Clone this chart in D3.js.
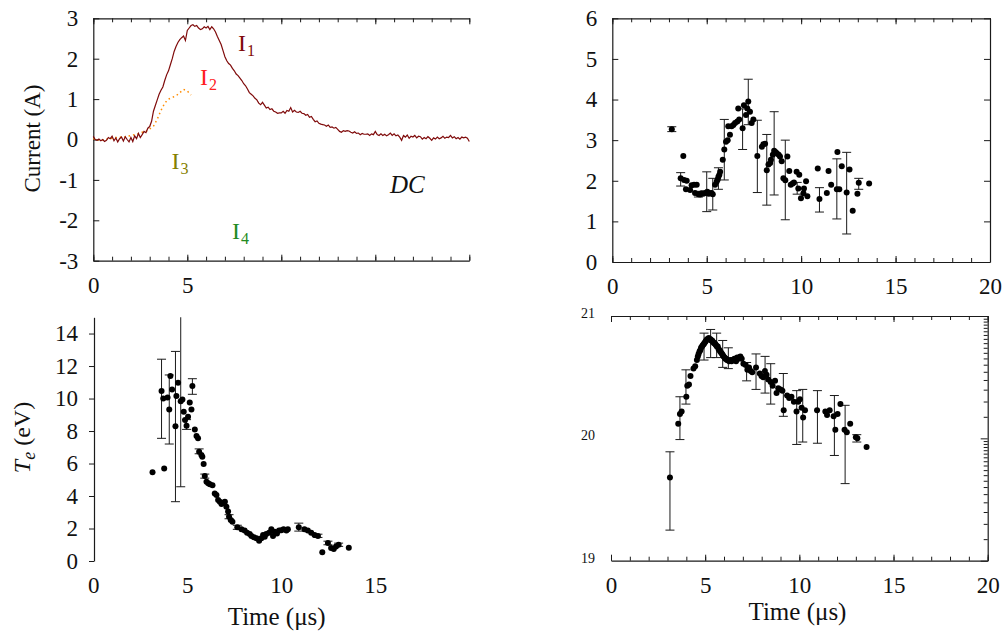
<!DOCTYPE html>
<html>
<head>
<meta charset="utf-8">
<script src="https://cdn.jsdelivr.net/npm/d3@7"></script>
<style>
body { margin: 0; background: #fff; }
</style>
</head>
<body>
<div id="chart"></div>
<script>
// ---- top left: discharge currents (A), I1 sampled every 0.1 us from t = 0
var i1Start = 0, i1Step = 0.1;
var i1Values = [0.08, 0.00, -0.02, 0.01, -0.03, 0.00, -0.05, -0.02, 0.05, 0.02,
    0.08, -0.03, 0.04, -0.06, 0.02, 0.06, -0.04, 0.07, 0.00, -0.06,
    0.05, -0.05, 0.09, 0.02, 0.15, 0.05, 0.12, 0.20, 0.17, 0.28,
    0.32, 0.45, 0.70, 0.84, 0.98, 1.12, 1.22, 1.30, 1.46, 1.60,
    1.70, 1.85, 2.00, 2.18, 2.30, 2.40, 2.47, 2.52, 2.56, 2.45,
    2.70, 2.76, 2.82, 2.84, 2.80, 2.82, 2.76, 2.72, 2.74, 2.79,
    2.76, 2.80, 2.72, 2.79, 2.74, 2.66, 2.55, 2.45, 2.35, 2.20,
    2.05, 1.95, 1.88, 1.84, 1.76, 1.70, 1.62, 1.58, 1.52, 1.46,
    1.38, 1.33, 1.25, 1.16, 1.12, 1.08, 1.02, 0.98, 0.90, 0.86,
    0.92, 0.85, 0.78, 0.80, 0.74, 0.76, 0.70, 0.68, 0.65, 0.66,
    0.66, 0.70, 0.65, 0.72, 0.70, 0.79, 0.68, 0.72, 0.68, 0.67,
    0.70, 0.65, 0.64, 0.60, 0.62, 0.55, 0.57, 0.50, 0.44, 0.46,
    0.40, 0.38, 0.37, 0.36, 0.33, 0.36, 0.30, 0.31, 0.28, 0.30,
    0.25, 0.20, 0.18, 0.22, 0.20, 0.22, 0.21, 0.18, 0.16, 0.19,
    0.15, 0.16, 0.12, 0.15, 0.13, 0.13, 0.14, 0.10, 0.14, 0.12,
    0.20, 0.12, 0.10, 0.14, 0.10, 0.13, 0.09, 0.12, 0.16, 0.10,
    0.14, 0.09, 0.11, 0.06, -0.02, 0.10, 0.06, 0.11, 0.03, 0.08,
    0.06, 0.10, 0.04, 0.08, 0.07, 0.01, 0.05, 0.02, 0.07, 0.03,
    -0.02, 0.04, 0.01, 0.06, 0.02, 0.04, 0.08, 0.03, 0.06, 0.05,
    0.10, 0.04, 0.07, 0.02, 0.05, 0.01, 0.06, 0.04, 0.06, 0.03,
    -0.05];
var i2Times = [0, 0.2, 0.4, 0.6, 0.8, 1.0, 1.2, 1.4, 1.6, 1.8, 2.0, 2.2, 2.4, 2.6,
    2.8, 3.0, 3.2, 3.4, 3.6, 3.8, 4.0, 4.2, 4.4, 4.6, 4.8, 5.0, 5.2];
var i2Values = [0.02, 0.00, -0.02, 0.00, 0.02, 0.03, 0.05, 0.06, 0.05, 0.08, 0.10, 0.12, 0.14, 0.18,
    0.20, 0.26, 0.33, 0.50, 0.72, 0.90, 1.00, 1.04, 1.08, 1.16, 1.24, 1.20, 1.10];
var currentTicks = [-3, -2, -1, 0, 1, 2, 3];
var topLeftXLabels = [0, 5];

// ---- top right
var rTimes = [3.15, 3.62, 3.76, 3.80, 3.90, 3.94, 4.12, 4.20, 4.33, 4.38, 4.47, 4.56, 4.65, 4.73, 4.82,
    4.91, 5.03, 5.10, 5.17, 5.25, 5.32, 5.44, 5.53, 5.58, 5.62, 5.67, 5.71, 5.85, 5.93, 6.02,
    6.11, 6.14, 6.23, 6.32, 6.41, 6.50, 6.62, 6.67, 6.72, 6.90, 6.97, 7.08, 7.15, 7.20, 7.29,
    7.38, 7.47, 7.68, 7.92, 8.00, 8.09, 8.18, 8.27, 8.36, 8.40, 8.50, 8.57, 8.64, 8.71, 8.81,
    8.88, 8.97, 9.06, 9.16, 9.27, 9.37, 9.45, 9.55, 9.62, 9.76, 9.85, 9.90, 9.99, 10.12, 10.15,
    10.26, 10.33, 10.88, 10.97, 11.36, 11.45, 11.59, 11.89, 11.92, 12.02, 12.15, 12.41, 12.56, 12.73, 12.98,
    13.05, 13.60];
var rValues = [3.27, 2.06, 2.61, 2.02, 1.79, 2.00, 1.77, 1.89, 1.90, 1.70, 1.90, 1.67, 1.66, 1.69, 1.68,
    1.70, 1.73, 1.68, 1.69, 1.70, 1.67, 1.90, 1.98, 2.03, 2.10, 2.15, 2.22, 2.52, 2.77, 2.96,
    3.00, 3.34, 3.13, 3.34, 3.37, 3.42, 3.46, 3.78, 3.51, 3.29, 3.86, 3.62, 3.78, 3.95, 3.70,
    3.42, 3.51, 2.61, 2.84, 2.90, 2.91, 2.26, 2.40, 2.44, 2.52, 2.64, 2.74, 2.71, 2.68, 2.64,
    2.60, 2.48, 2.06, 2.01, 2.60, 2.24, 1.90, 1.93, 1.96, 2.22, 1.81, 2.15, 1.57, 1.69, 1.81,
    1.99, 1.62, 2.30, 1.55, 1.70, 2.24, 1.90, 1.79, 2.71, 1.79, 2.36, 1.71, 2.28, 1.26, 1.68,
    1.95, 1.93];
var rErrTimes = [3.15, 3.62, 4.56, 5.00, 5.32, 5.62, 5.93, 6.90, 7.20, 7.68, 8.18, 8.57, 9.16, 9.79, 10.97, 11.89, 12.41, 13.05];
var rErrLow = [3.21, 1.87, 1.60, 1.24, 1.28, 1.79, 2.02, 2.77, 3.38, 1.71, 1.40, 1.65, 1.04, 1.67, 1.23, 1.06, 0.69, 1.79];
var rErrHigh = [3.33, 2.20, 1.74, 2.22, 2.06, 2.32, 3.51, 3.77, 4.50, 3.49, 3.14, 3.70, 3.00, 1.96, 1.83, 2.54, 2.70, 2.06];
var rTicks = [0, 1, 2, 3, 4, 5, 6];

// ---- bottom left: electron temperature (eV)
var teTimes = [3.15, 3.77, 3.63, 3.72, 3.95, 4.04, 4.10, 4.19, 4.37, 4.42, 4.51, 4.65, 4.74, 4.81, 4.88,
    4.96, 5.04, 5.13, 5.22, 5.27, 5.40, 5.49, 5.57, 5.63, 5.75, 5.80, 5.87, 5.93, 6.02, 6.11,
    6.20, 6.34, 6.46, 6.55, 6.64, 6.73, 6.82, 6.91, 7.00, 7.08, 7.17, 7.22, 7.31, 7.40, 7.66,
    7.88, 8.05, 8.18, 8.32, 8.41, 8.54, 8.68, 8.82, 8.94, 9.03, 9.12, 9.20, 9.35, 9.47, 9.56,
    9.65, 9.77, 9.88, 10.00, 10.12, 10.27, 10.35, 10.93, 11.23, 11.41, 11.59, 11.77, 11.95, 12.18, 12.48,
    12.65, 12.79, 12.91, 13.05, 13.59];
var teValues = [5.46, 5.70, 10.46, 10.00, 10.06, 9.33, 11.38, 10.56, 8.30, 10.15, 10.97, 9.84, 9.94, 9.19, 8.68,
    8.33, 8.88, 9.75, 9.33, 10.77, 8.10, 7.69, 7.55, 6.73, 6.52, 6.42, 5.97, 5.23, 4.88, 4.78,
    4.73, 4.67, 4.16, 4.06, 3.75, 3.65, 3.51, 3.59, 3.65, 3.34, 3.04, 2.73, 2.52, 2.42, 2.07,
    1.95, 1.87, 1.74, 1.66, 1.54, 1.46, 1.40, 1.25, 1.40, 1.60, 1.50, 1.66, 1.74, 1.95, 1.54,
    1.80, 1.70, 1.87, 1.90, 1.95, 1.87, 1.95, 2.07, 1.95, 1.87, 1.74, 1.60, 1.54, 0.54, 1.11,
    0.80, 0.74, 0.90, 1.00, 0.82];
var teErrTimes = [3.63, 4.04, 4.37, 4.65, 4.96, 5.27, 5.63, 5.93, 7.22, 7.66, 10.93, 11.95, 12.48, 13.05];
var teErrLow = [7.55, 7.20, 3.65, 4.57, 8.10, 10.26, 6.60, 5.10, 2.60, 1.95, 1.84, 1.45, 1.00, 0.90];
var teErrHigh = [12.42, 11.45, 12.90, 15.50, 8.70, 11.22, 6.90, 5.35, 2.85, 2.20, 2.33, 1.65, 1.22, 1.10];
var teTicks = [0, 2, 4, 6, 8, 10, 12, 14];
var bottomLeftXLabels = [0, 5, 10, 15];

// ---- bottom right: log10 of density
var neTimes = [3.13, 3.57, 3.66, 3.75, 4.00, 4.05, 4.14, 4.22, 4.38, 4.47, 4.56, 4.61, 4.65, 4.70, 4.74,
    4.78, 4.83, 4.87, 4.92, 4.96, 5.01, 5.05, 5.10, 5.14, 5.19, 5.23, 5.28, 5.32, 5.37, 5.41,
    5.46, 5.50, 5.54, 5.58, 5.62, 5.67, 5.71, 5.76, 5.80, 5.85, 5.90, 5.94, 5.98, 6.03, 6.07,
    6.11, 6.16, 6.20, 6.27, 6.34, 6.40, 6.46, 6.50, 6.55, 6.60, 6.64, 6.70, 6.76, 6.81, 6.87,
    6.94, 7.03, 7.15, 7.24, 7.33, 7.42, 7.50, 7.70, 7.90, 7.99, 8.08, 8.17, 8.26, 8.35, 8.48,
    8.58, 8.71, 8.79, 8.88, 9.00, 9.10, 9.17, 9.35, 9.46, 9.58, 9.71, 9.85, 9.94, 10.03, 10.12,
    10.20, 10.30, 10.94, 11.38, 11.47, 11.61, 11.82, 11.91, 12.03, 12.18, 12.40, 12.52, 12.70, 13.00, 13.08,
    13.57];
var neExps = [19.68, 20.12, 20.20, 20.22, 20.34, 20.43, 20.44, 20.51, 20.57, 20.59, 20.64, 20.67, 20.69, 20.71, 20.72,
    20.74, 20.75, 20.76, 20.77, 20.78, 20.79, 20.80, 20.81, 20.81, 20.82, 20.81, 20.81, 20.80, 20.80, 20.79,
    20.78, 20.78, 20.77, 20.76, 20.75, 20.75, 20.73, 20.72, 20.71, 20.70, 20.69, 20.68, 20.67, 20.66, 20.65,
    20.65, 20.64, 20.64, 20.63, 20.64, 20.63, 20.64, 20.64, 20.65, 20.64, 20.63, 20.66, 20.65, 20.66, 20.67,
    20.65, 20.61, 20.60, 20.56, 20.58, 20.55, 20.54, 20.58, 20.53, 20.51, 20.50, 20.55, 20.52, 20.48, 20.46,
    20.43, 20.47, 20.37, 20.41, 20.40, 20.39, 20.23, 20.35, 20.33, 20.34, 20.30, 20.22, 20.30, 20.32, 20.25,
    20.17, 20.23, 20.23, 20.22, 20.19, 20.23, 20.18, 20.07, 20.20, 20.28, 20.07, 20.05, 20.12, 20.01, 20.00,
    19.93];
var neErrTimes = [3.13, 3.66, 3.98, 4.94, 5.29, 5.61, 5.93, 6.23, 7.20, 7.70, 8.18, 8.48, 9.15, 9.86, 10.18, 10.96, 11.86, 12.43, 13.05];
var neErrLow = [19.25, 19.99, 20.28, 20.64, 20.66, 20.66, 20.58, 20.57, 20.47, 20.40, 20.37, 20.28, 20.18, 19.95, 19.97, 19.96, 19.86, 19.63, 19.97];
var neErrHigh = [19.89, 20.34, 20.56, 20.86, 20.89, 20.86, 20.80, 20.74, 20.62, 20.69, 20.67, 20.61, 20.53, 20.39, 20.40, 20.39, 20.35, 20.27, 20.03];
var neTickExps = [19, 20, 21];
var logMinorSteps = [1.5, 2, 2.5, 3, 3.5, 4, 4.5, 5, 5.5, 6, 6.5, 7, 7.5, 8, 8.5, 9, 9.5];

var timeTicks = [0, 5, 10, 15, 20];
var serif = '"Liberation Serif", "Times New Roman", serif';

function init(){
    var svg = d3.select("#chart")
                .append("svg")
                .attr("width", 1003)
                .attr("height", 635);

    // plain numbers with an ascii minus, as in the original figure
    var plain = function(d){ return String(d); };

    // common look for every axis group
    function look(g, size){
        g.attr("font-family", serif)
         .attr("font-size", size || 23)
         .attr("color", "#1a1a1a");
        g.select(".domain").attr("stroke-width", 1.2);
        g.selectAll(".tick text").attr("fill", "#111");
    }
    function noDomain(g){ g.select(".domain").remove(); }

    function addAxis(axis, tx, ty, size){
        return svg.append("g")
            .attr("transform", "translate(" + tx + "," + ty + ")")
            .call(axis)
            .call(function(g){ look(g, size); });
    }

    function dots(x, y, ts, vs){
        svg.append("g").selectAll("circle")
            .data(ts)
            .enter()
            .append("circle")
            .attr("cx", function(d){ return x(d); })
            .attr("cy", function(d, i){ return y(vs[i]); })
            .attr("r", 3)
            .attr("fill", "#000");
    }

    function errorBars(x, y, ts, lo, hi, clip){
        var g = svg.append("g")
            .attr("stroke", "#1a1a1a")
            .attr("stroke-width", 1)
            .attr("fill", "none");
        if (clip) g.attr("clip-path", "url(#" + clip + ")");
        var bars = g.selectAll("g").data(ts).enter().append("g");
        bars.append("line")
            .attr("x1", function(d){ return x(d); })
            .attr("x2", function(d){ return x(d); })
            .attr("y1", function(d, i){ return y(lo[i]); })
            .attr("y2", function(d, i){ return y(hi[i]); });
        bars.append("line")
            .attr("x1", function(d){ return x(d) - 4.5; })
            .attr("x2", function(d){ return x(d) + 4.5; })
            .attr("y1", function(d, i){ return y(lo[i]); })
            .attr("y2", function(d, i){ return y(lo[i]); });
        bars.append("line")
            .attr("x1", function(d){ return x(d) - 4.5; })
            .attr("x2", function(d){ return x(d) + 4.5; })
            .attr("y1", function(d, i){ return y(hi[i]); })
            .attr("y2", function(d, i){ return y(hi[i]); });
    }

    // ===== top left: currents
    var x1 = d3.scaleLinear().domain([0, 20]).range([93.3, 469.3]);
    var y1 = d3.scaleLinear().domain([-3, 3]).range([260.7, 18.3]);

    addAxis(d3.axisBottom(x1).tickValues(timeTicks).tickSizeInner(-6).tickSizeOuter(0).tickPadding(16)
        .tickFormat(function(d){ return topLeftXLabels.indexOf(d) >= 0 ? d : ""; }), 0, y1(-3));
    addAxis(d3.axisBottom(x1).ticks(20).tickSizeInner(-4).tickSizeOuter(0).tickFormat(""), 0, y1(-3)).call(noDomain);
    addAxis(d3.axisTop(x1).tickValues(timeTicks).tickSizeInner(-6).tickSizeOuter(0).tickFormat(""), 0, y1(3));
    addAxis(d3.axisTop(x1).ticks(20).tickSizeInner(-4).tickSizeOuter(0).tickFormat(""), 0, y1(3)).call(noDomain);
    addAxis(d3.axisLeft(y1).tickValues(currentTicks).tickSizeInner(-6).tickSizeOuter(0).tickPadding(15)
        .tickFormat(plain), x1(0), 0);

    svg.append("path")
        .datum(i2Values)
        .attr("d", d3.line()
            .x(function(d, i){ return x1(i2Times[i]); })
            .y(function(d){ return y1(d); }))
        .attr("fill", "none")
        .attr("stroke", "#ff8c00")
        .attr("stroke-width", 1.5)
        .attr("stroke-dasharray", "1.5,3");

    svg.append("path")
        .datum(i1Values)
        .attr("d", d3.line()
            .x(function(d, i){ return x1(i1Start + i * i1Step); })
            .y(function(d){ return y1(d); }))
        .attr("fill", "none")
        .attr("stroke", "#7f0a0a")
        .attr("stroke-width", 1.2);

    var curveLabels = [
        {t: "I", s: "1", x: 238, y: 51, c: "#7f0a0a"},
        {t: "I", s: "2", x: 200, y: 85, c: "#ff2020"},
        {t: "I", s: "3", x: 171.5, y: 169, c: "#858000"},
        {t: "I", s: "4", x: 232, y: 239, c: "#228b22"}
    ];
    curveLabels.forEach(function(l){
        var t = svg.append("text")
            .attr("x", l.x).attr("y", l.y)
            .attr("font-family", serif).attr("font-size", 24)
            .attr("fill", l.c)
            .text(l.t);
        t.append("tspan").attr("font-size", 16).attr("dy", 5).attr("dx", 1).text(l.s);
    });
    svg.append("text")
        .attr("x", 390).attr("y", 192.5)
        .attr("font-family", serif).attr("font-size", 25)
        .attr("font-style", "italic")
        .attr("fill", "#111")
        .text("DC");

    svg.append("text")
        .attr("transform", "translate(40,138.5) rotate(-90)")
        .attr("text-anchor", "middle")
        .attr("font-family", serif).attr("font-size", 23)
        .attr("fill", "#111")
        .text("Current (A)");

    // ===== top right
    var x2 = d3.scaleLinear().domain([0, 20]).range([612.3, 990]);
    var y2 = d3.scaleLinear().domain([0, 6]).range([262, 18.3]);

    addAxis(d3.axisBottom(x2).tickValues(timeTicks).tickSizeInner(-6).tickSizeOuter(0).tickPadding(16).tickFormat(plain), 0, y2(0));
    addAxis(d3.axisBottom(x2).ticks(20).tickSizeInner(-4).tickSizeOuter(0).tickFormat(""), 0, y2(0)).call(noDomain);
    addAxis(d3.axisTop(x2).tickValues(timeTicks).tickSizeInner(-6).tickSizeOuter(0).tickFormat(""), 0, y2(6));
    addAxis(d3.axisTop(x2).ticks(20).tickSizeInner(-4).tickSizeOuter(0).tickFormat(""), 0, y2(6)).call(noDomain);
    addAxis(d3.axisLeft(y2).tickValues(rTicks).tickSizeInner(-6).tickSizeOuter(0).tickPadding(15).tickFormat(plain), x2(0), 0);
    addAxis(d3.axisRight(y2).tickValues(rTicks).tickSizeInner(-6).tickSizeOuter(0).tickFormat(""), x2(20), 0);

    errorBars(x2, y2, rErrTimes, rErrLow, rErrHigh);
    dots(x2, y2, rTimes, rValues);

    // ===== bottom left: Te
    var x3 = d3.scaleLinear().domain([0, 20]).range([93.3, 469.3]);
    var y3 = d3.scaleLinear().domain([0, 15]).range([561, 317.3]);

    svg.append("clipPath").attr("id", "clipTe")
        .append("rect")
        .attr("x", x3(0)).attr("y", y3(15))
        .attr("width", x3(20) - x3(0)).attr("height", y3(0) - y3(15));

    addAxis(d3.axisBottom(x3).tickValues(bottomLeftXLabels).tickSize(0).tickPadding(16).tickFormat(plain), 0, y3(0)).call(noDomain);
    addAxis(d3.axisLeft(y3).tickValues(teTicks).tickSizeInner(5).tickSizeOuter(0).tickPadding(11).tickFormat(plain), x3(0) + 0.7, 0);

    errorBars(x3, y3, teErrTimes, teErrLow, teErrHigh, "clipTe");
    dots(x3, y3, teTimes, teValues);

    var te = svg.append("text")
        .attr("transform", "translate(30,437.5) rotate(-90)")
        .attr("text-anchor", "middle")
        .attr("font-family", serif).attr("font-size", 24)
        .attr("fill", "#111");
    te.append("tspan").attr("font-style", "italic").text("T");
    te.append("tspan").attr("font-style", "italic").attr("font-size", 18).attr("dy", 5).text("e");
    te.append("tspan").attr("dy", -5).text(" (eV)");

    svg.append("text")
        .attr("x", 276.7).attr("y", 625)
        .attr("text-anchor", "middle")
        .attr("font-family", serif).attr("font-size", 25)
        .attr("fill", "#111")
        .text("Time (\u03bcs)");

    // ===== bottom right: density (log)
    var x4 = d3.scaleLinear().domain([0, 20]).range([611, 987.7]);
    var y4 = d3.scaleLog().domain([1e19, 1e21]).range([560.7, 316]);

    var majorN = neTickExps.map(function(e){ return Math.pow(10, e); });
    var minorN = [];
    neTickExps.slice(0, -1).forEach(function(e){
        logMinorSteps.forEach(function(k){ minorN.push(k * Math.pow(10, e)); });
    });

    addAxis(d3.axisBottom(x4).tickValues(timeTicks).tickSizeInner(-6).tickSizeOuter(0).tickPadding(16).tickFormat(plain), 0, y4(1e19));
    addAxis(d3.axisBottom(x4).ticks(20).tickSizeInner(-4).tickSizeOuter(0).tickFormat(""), 0, y4(1e19)).call(noDomain);
    addAxis(d3.axisTop(x4).tickValues(timeTicks).tickSizeInner(-6).tickSizeOuter(0).tickFormat(""), 0, y4(1e21));
    addAxis(d3.axisTop(x4).ticks(20).tickSizeInner(-4).tickSizeOuter(0).tickFormat(""), 0, y4(1e21)).call(noDomain);
    addAxis(d3.axisRight(y4).tickValues(majorN).tickSizeInner(-7).tickSizeOuter(0).tickFormat(""), x4(20), 0);
    addAxis(d3.axisRight(y4).tickValues(minorN).tickSizeInner(-4).tickSizeOuter(0).tickFormat(""), x4(20), 0).call(noDomain);
    addAxis(d3.axisLeft(y4).tickValues(majorN).tickSize(0).tickPadding(16)
        .tickFormat(function(d){ return Math.round(Math.log10(d)); }), x4(0), 0, 14)
        .call(noDomain)
        .selectAll(".tick text").attr("dy", "0.1em");

    var yN = function(e){ return y4(Math.pow(10, e)); };
    errorBars(x4, yN, neErrTimes, neErrLow, neErrHigh);
    dots(x4, yN, neTimes, neExps);

    svg.append("text")
        .attr("x", 797.5).attr("y", 620)
        .attr("text-anchor", "middle")
        .attr("font-family", serif).attr("font-size", 25)
        .attr("fill", "#111")
        .text("Time (\u03bcs)");
}
window.onload = init;
</script>
</body>
</html>
